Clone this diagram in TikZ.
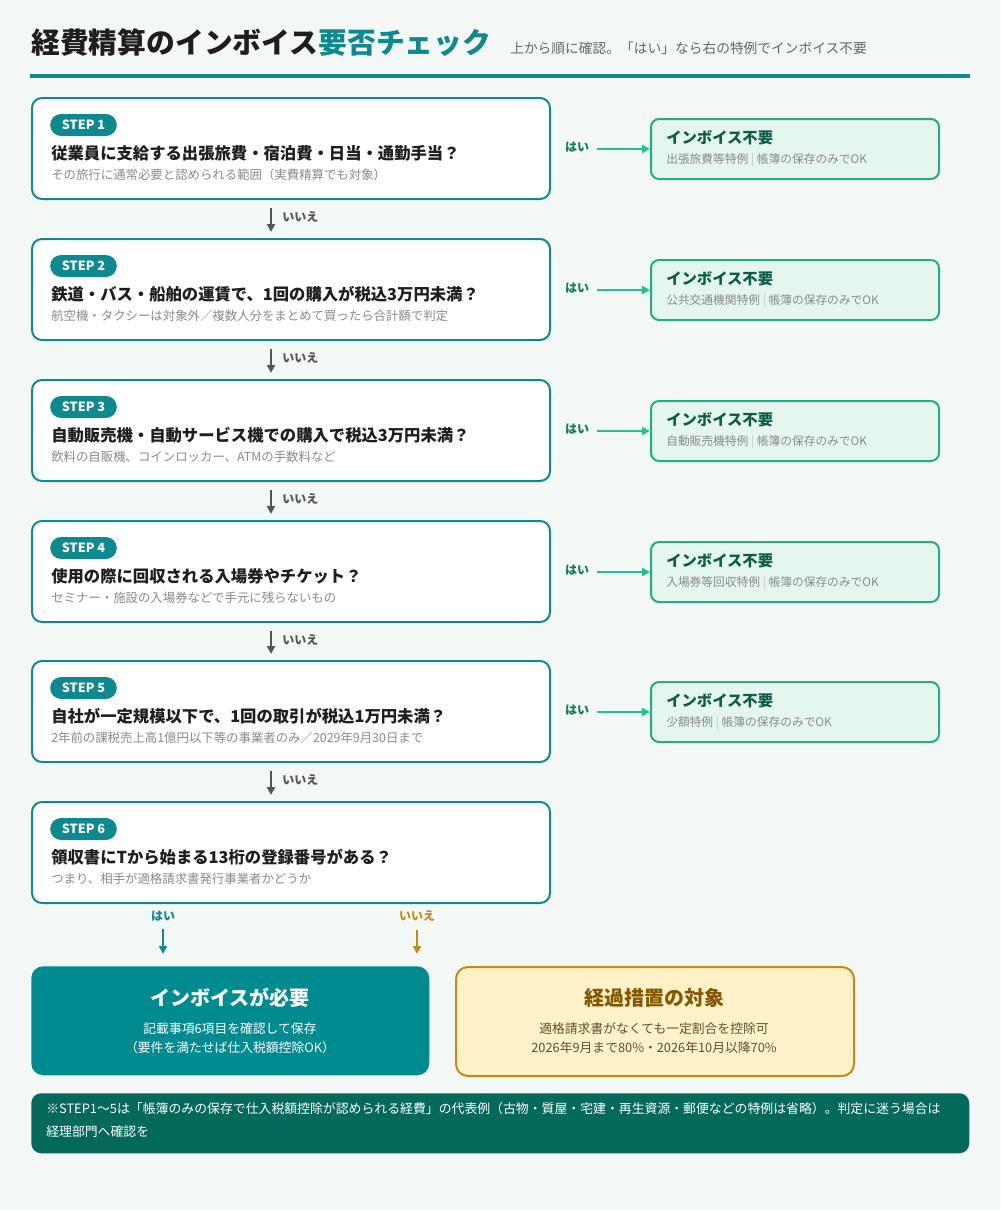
\documentclass[tikz,border=0pt]{standalone}
\usepackage{fontspec}
\setmainfont{Noto Sans CJK JP}
\usetikzlibrary{arrows.meta,calc}
\definecolor{bgc}{HTML}{F3F8F7}
\definecolor{mteal}{HTML}{0E8A8F}
\definecolor{ink}{HTML}{1E1E1E}
\definecolor{subg}{HTML}{8A8A8A}
\definecolor{arrg}{HTML}{555555}
\definecolor{gborder}{HTML}{22AE84}
\definecolor{gfill}{HTML}{E5F6EF}
\definecolor{garrow}{HTML}{1FC292}
\definecolor{gyes}{HTML}{127A5C}
\definecolor{gtitle}{HTML}{0B5E47}
\definecolor{sepg}{HTML}{C8C8C8}
\definecolor{gold}{HTML}{C48A12}
\definecolor{yfill}{HTML}{FFF2C8}
\definecolor{gtext}{HTML}{845800}
\definecolor{gsub}{HTML}{5E5030}
\definecolor{needf}{HTML}{008B91}
\definecolor{notef}{HTML}{03695A}
\newcommand\rsep{{\color{sepg}\ |\ }}
\tikzset{
  stepbox/.style={draw=mteal, line width=1.5pt, fill=white, rounded corners=7.5pt, minimum width=388.5pt, minimum height=75.75pt, anchor=north west, inner sep=0pt},
  badge/.style={fill=mteal, text=white, font=\bfseries\fontsize{9.5pt}{11pt}\selectfont, rounded corners=8.25pt, minimum width=50pt, minimum height=16.5pt, inner sep=0pt},
  qtext/.style={anchor=west, font=\bfseries\fontsize{12.25pt}{14pt}\selectfont, text=ink, inner sep=0pt},
  subtext/.style={anchor=west, font=\fontsize{9.3pt}{11pt}\selectfont, text=subg, inner sep=0pt},
  rbox/.style={draw=gborder, fill=gfill, line width=1.5pt, rounded corners=6pt, minimum width=216pt, minimum height=45pt, anchor=north west, inner sep=0pt},
  rtitle/.style={anchor=west, font=\bfseries\fontsize{11.5pt}{13pt}\selectfont, text=gtitle, inner sep=0pt},
  rsub/.style={anchor=west, font=\fontsize{8.8pt}{10pt}\selectfont, text=subg, inner sep=0pt},
  yeslbl/.style={font=\bfseries\fontsize{9pt}{11pt}\selectfont, text=gyes, inner sep=0pt},
  nolbl/.style={anchor=west, font=\bfseries\fontsize{9pt}{11pt}\selectfont, text=arrg, inner sep=0pt},
  garr/.style={draw=garrow, line width=1.8pt, -{Triangle[length=6pt,width=6pt]}, shorten <=6pt},
  narr/.style={draw=arrg, line width=1.8pt, -{Triangle[length=6pt,width=6pt]}},
  endbox/.style={rounded corners=9pt, minimum width=298.5pt, minimum height=81.75pt, anchor=north west, inner sep=0pt},
  endtitle/.style={font=\bfseries\fontsize{15pt}{17pt}\selectfont, inner sep=0pt},
  endsub/.style={font=\fontsize{9.6pt}{11pt}\selectfont, inner sep=0pt},
}
\newcommand\qstep[4]{%
  \node[stepbox] (s#1) at (31,#2) {};
  \node[badge] (b#1) at (83.5,#2+28) {STEP #1};
  \node[qtext] (q#1) at (51,#2+56) {#3};
  \node[subtext] (t#1) at (51,#2+78) {#4};
}
\newcommand\rstep[3]{%
  \node[rbox] (r#1) at (650,#2+21) {};
  \node[rtitle] (rt#1) at (666,#2+41) {インボイス不要};
  \node[rsub] (rs#1) at (666,#2+63) {#3};
  \node[yeslbl] (y#1) at (577,#2+50) {はい};
  \draw[garr] (r#1.west -| y#1.east) -- (r#1.west);
}
\newcommand\nostep[3]{%
  \node[nolbl] (n#1) at (282,#2+120) {いいえ};
  \draw[narr] ([xshift=-15pt,yshift=-6pt]s#1.south) -- ([xshift=-15pt,yshift=4.5pt]s#3.north);
}
\begin{document}
\begin{tikzpicture}[x=0.75pt,y=-0.75pt]
\fill[bgc] (0,0) rectangle (1000,1210);
\useasboundingbox (0,0) rectangle (1000,1210);
% title
\node[anchor=west, inner sep=0pt, font=\bfseries\fontsize{21.6pt}{24pt}\selectfont] (title) at (31,43) {{\color{ink}経費精算のインボイス}{\color{mteal}要否チェック}};
\node[anchor=west, inner sep=0pt, font=\fontsize{10.3pt}{12pt}\selectfont, text=black!60] (subtitle) at (510,48) {上から順に確認。「はい」なら右の特例でインボイス不要};
\fill[mteal] (30,73.5) rectangle (970,77.5);
% steps
\qstep{1}{97}{従業員に支給する出張旅費・宿泊費・日当・通勤手当？}{その旅行に通常必要と認められる範囲（実費精算でも対象）}
\qstep{2}{238}{鉄道・バス・船舶の運賃で、1回の購入が税込3万円未満？}{航空機・タクシーは対象外／複数人分をまとめて買ったら合計額で判定}
\qstep{3}{379}{自動販売機・自動サービス機での購入で税込3万円未満？}{飲料の自販機、コインロッカー、ATMの手数料など}
\qstep{4}{520}{使用の際に回収される入場券やチケット？}{セミナー・施設の入場券などで手元に残らないもの}
\qstep{5}{660}{自社が一定規模以下で、1回の取引が税込1万円未満？}{2年前の課税売上高1億円以下等の事業者のみ／2029年9月30日まで}
\qstep{6}{801}{領収書にTから始まる13桁の登録番号がある？}{つまり、相手が適格請求書発行事業者かどうか}
\rstep{1}{97}{出張旅費等特例\rsep 帳簿の保存のみでOK}
\rstep{2}{238}{公共交通機関特例\rsep 帳簿の保存のみでOK}
\rstep{3}{379}{自動販売機特例\rsep 帳簿の保存のみでOK}
\rstep{4}{520}{入場券等回収特例\rsep 帳簿の保存のみでOK}
\rstep{5}{660}{少額特例\rsep 帳簿の保存のみでOK}
\nostep{1}{97}{2}
\nostep{2}{238}{3}
\nostep{3}{379}{4}
\nostep{4}{520}{5}
\nostep{5}{660}{6}
% end boxes
\node[endbox, fill=needf] (nb) at (31,966) {};
\node[endbox, fill=yfill, draw=gold, line width=1.5pt] (gb) at (455,966) {};
\node[endtitle, text=white] (nbt) at (230,998) {インボイスが必要};
\node[endsub, text=white] (nbs1) at (230,1029) {記載事項6項目を確認して保存};
\node[endsub, text=white] (nbs2) at (230,1048) {（要件を満たせば仕入税額控除OK）};
\node[endtitle, text=gtext] (gbt) at (654,998) {経過措置の対象};
\node[endsub, text=gsub] (gbs1) at (654,1029) {適格請求書がなくても一定割合を控除可};
\node[endsub, text=gsub] (gbs2) at (654,1048) {2026年9月まで80\%・2026年10月以降70\%};
% final arrows
\node[font=\bfseries\fontsize{9pt}{11pt}\selectfont, text=mteal, inner sep=0pt] (ya) at (163,916) {はい};
\node[font=\bfseries\fontsize{9pt}{11pt}\selectfont, text=gold, inner sep=0pt] (na) at (417,916) {いいえ};
\draw[draw=mteal, line width=1.8pt, -{Triangle[length=6pt,width=6pt]}, shorten <=6pt, shorten >=9pt] (ya.south) -- (ya.south |- nb.north);
\draw[draw=gold, line width=1.8pt, -{Triangle[length=6pt,width=6pt]}, shorten <=6pt, shorten >=9pt] (na.south) -- (na.south |- gb.north);
% note
\node[fill=notef, rounded corners=7.5pt, minimum width=703.5pt, minimum height=45pt, anchor=north west, inner sep=0pt] (note) at (31,1093) {};
\node[anchor=north west, inner sep=0pt, align=left, text=white, font=\fontsize{9.65pt}{17.25pt}\selectfont] (notet) at (46,1102) {※STEP1〜5は「帳簿のみの保存で仕入税額控除が認められる経費」の代表例（古物・質屋・宅建・再生資源・郵便などの特例は省略）。判定に迷う場合は\\経理部門へ確認を};
\end{tikzpicture}
\end{document}
